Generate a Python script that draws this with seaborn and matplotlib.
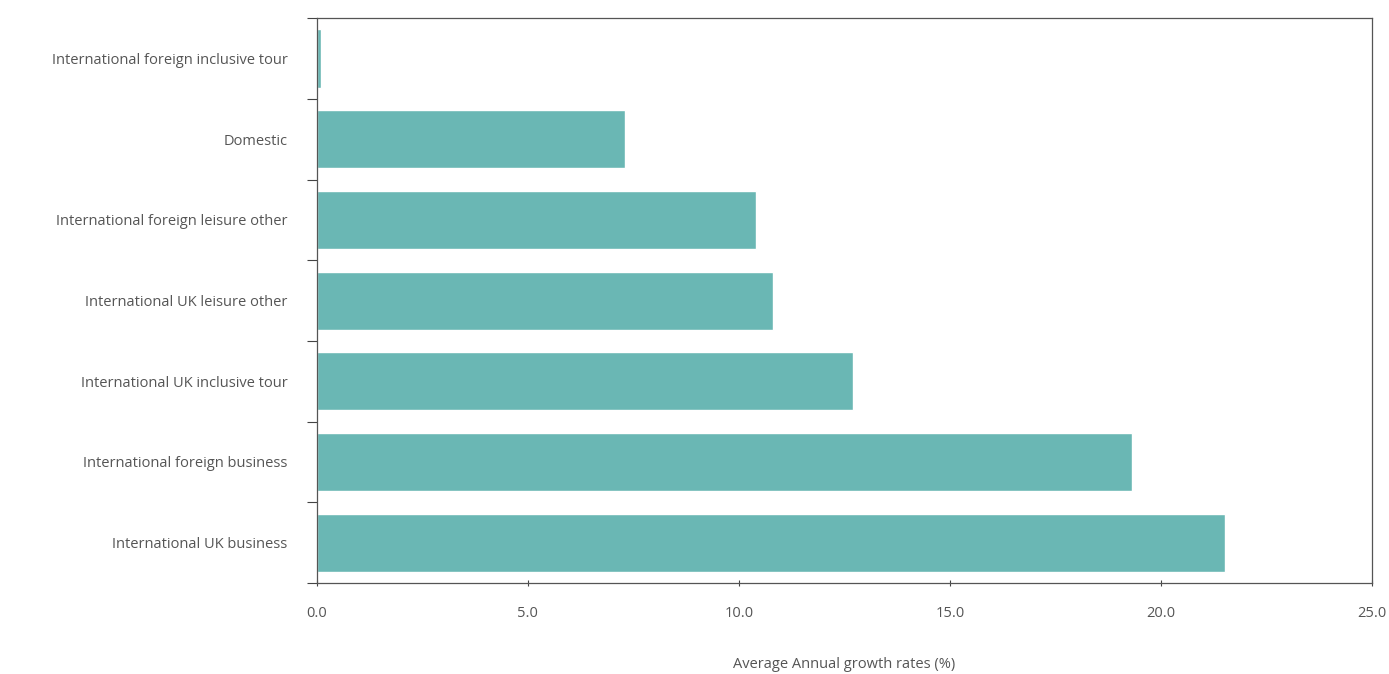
import matplotlib
matplotlib.use('Agg')
import matplotlib.pyplot as plt
import seaborn as sns
import pandas as pd
import numpy as np

categories = ['International foreign inclusive tour', 'Domestic',
              'International foreign leisure other', 'International UK leisure other',
              'International UK inclusive tour', 'International foreign business',
              'International UK business']
growth = [0.1, 7.3, 10.4, 10.8, 12.7, 19.3, 21.5]
xticks = [0.0, 5.0, 10.0, 15.0, 20.0, 25.0]

df = pd.DataFrame({'category': categories, 'growth': growth})

sns.set_style('white')
plt.rcParams['font.family'] = ['Open Sans', 'DejaVu Sans']

fig = plt.figure(figsize=(13.89, 6.74), dpi=100)
ax = fig.add_axes([0.228, 0.135, 0.76, 0.838])

sns.barplot(data=df, y='category', x='growth', orient='h', color='#6ab7b4',
            saturation=1, width=0.72, ax=ax)

ax.set_xlim(0, 25)
ax.set_xticks(xticks)
ax.set_xticklabels([f'{t:.1f}' for t in xticks], fontsize=10.5, color='#555555')
ax.set_ylim(len(categories) - 0.5, -0.5)
ax.set_yticks(range(len(categories)))
ax.set_yticklabels(categories, fontsize=10.5, color='#555555')
ax.tick_params(axis='y', which='major', left=True, length=0, pad=21)
ax.set_yticks(np.arange(-0.5, len(categories)), minor=True)
ax.tick_params(axis='y', which='minor', left=True, length=7, color='#444444', width=0.8)
ax.tick_params(axis='x', which='major', bottom=True, length=5, direction='inout',
               color='#444444', width=0.8, pad=14)

ax.set_xlabel('Average Annual growth rates (%)', fontsize=10.5, color='#555555', labelpad=26)
ax.set_ylabel('')
for s in ax.spines.values():
    s.set_color('#555555')
    s.set_linewidth(0.9)

fig.savefig('out.png', dpi=100)
